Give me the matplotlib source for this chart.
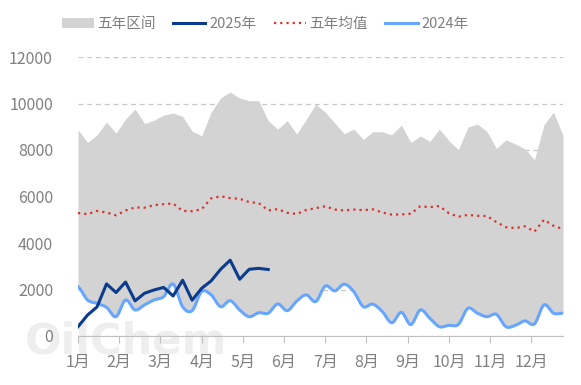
import matplotlib.pyplot as plt
import numpy as np

plt.rcParams['font.family'] = ['Noto Sans CJK SC', 'DejaVu Sans']

months = ["1月", "2月", "3月", "4月", "5月", "6月", "7月", "8月", "9月", "10月", "11月", "12月"]

# weekly values, 52 weeks
upper5 = [8870, 8325, 8655, 9200, 8725, 9330, 9760, 9140, 9285, 9500, 9590, 9445, 8815, 8610,
          9630, 10235, 10495, 10235, 10120, 10120, 9260, 8900, 9260, 8685, 9320, 9975, 9630, 9160,
          8700, 8900, 8455, 8785, 8785, 8655, 9070, 8325, 8600, 8370, 8900, 8400, 8010, 8985,
          9115, 8800, 8070, 8440, 8255, 8050, 7580, 9085, 9630, 8625]
mean5 = [5290, 5240, 5380, 5310, 5190, 5400, 5530, 5520, 5630, 5670, 5700, 5380, 5370, 5450,
         5920, 6010, 5930, 5900, 5760, 5720, 5400, 5460, 5300, 5250, 5420, 5500, 5580, 5440,
         5400, 5440, 5410, 5450, 5310, 5220, 5230, 5260, 5580, 5540, 5590, 5280, 5130, 5210,
         5170, 5160, 4900, 4680, 4640, 4720, 4490, 5000, 4740, 4600]
y2025 = [400, 900, 1250, 2240, 1870, 2320, 1510, 1840, 1980, 2090, 1720, 2400, 1540, 2050,
         2370, 2870, 3260, 2440, 2870, 2910, 2860]
y2024 = [2120, 1550, 1400, 1230, 830, 1550, 1120, 1340, 1550, 1690, 2240, 1260, 1090, 1910,
         1770, 1260, 1520, 1120, 830, 1000, 980, 1380, 1090, 1500, 1770, 1480, 2150, 1940,
         2230, 1910, 1260, 1370, 1050, 570, 1020, 490, 1120, 760, 400, 460, 500, 1190,
         980, 830, 930, 400, 460, 650, 520, 1340, 980, 980]


def smooth(y, n=10):
    # catmull-rom curve through the weekly points (drawing only)
    y = np.asarray(y, dtype=float)
    p = np.concatenate([[y[0]], y, [y[-1]]])
    xs, ys = [], []
    t = np.linspace(0, 1, n, endpoint=False)
    for i in range(len(y) - 1):
        p0, p1, p2, p3 = p[i], p[i + 1], p[i + 2], p[i + 3]
        yy = 0.5 * (2 * p1 + (-p0 + p2) * t + (2 * p0 - 5 * p1 + 4 * p2 - p3) * t ** 2
                    + (-p0 + 3 * p1 - 3 * p2 + p3) * t ** 3)
        xs.extend(i + t)
        ys.extend(yy)
    xs.append(len(y) - 1)
    ys.append(y[-1])
    return np.array(xs), np.array(ys)


wk = np.arange(len(upper5))
xs24, ys24 = smooth(y2024)
up_s = np.interp(xs24, wk, upper5)

fig = plt.figure(figsize=(5.81, 3.85), dpi=100)
ax = fig.add_axes([78 / 581, 1 - 336 / 385, (563 - 78) / 581, (336 - 57) / 385])
ax.patch.set_alpha(0)

# faint watermark behind the plot
fig.text(25 / 581, 1 - 354 / 385, "OilChem", fontsize=31, fontweight='bold',
         color='#eeeeee', family='DejaVu Sans', zorder=-1)

ax.fill_between(xs24, ys24, up_s, color='#d3d3d3', lw=0, zorder=1, label='五年区间')
ax.plot(np.arange(len(y2025)), y2025, color='#0b3b8c', lw=2.2, zorder=4, label='2025年')
ax.plot(wk, mean5, color='#d9342b', lw=1.6, linestyle=(0, (1, 1.8)), zorder=3, label='五年均值')
ax.plot(xs24, ys24, color='#66a6ff', lw=2.2, zorder=3, label='2024年')

ax.set_xlim(0, 51)
ax.set_ylim(0, 12000)
ax.set_yticks(range(0, 12001, 2000))
mt = [m * 52 / 12 for m in range(12)]
ax.set_xticks(mt)
ax.set_xticklabels(months)
ax.grid(axis='y', color='#c8c8c8', linestyle=(0, (4, 3)), lw=0.9, zorder=0)
ax.set_axisbelow(True)

for s in ['top', 'right', 'left']:
    ax.spines[s].set_visible(False)
ax.spines['bottom'].set_color('#c0c0c0')
ax.tick_params(axis='y', length=0, pad=18, labelsize=11.5, labelcolor='#808080')
ax.tick_params(axis='x', length=5, color='#c0c0c0', pad=8, labelsize=11.5, labelcolor='#808080')

h, l = ax.get_legend_handles_labels()
leg = fig.legend(h, l, loc='center', bbox_to_anchor=(265 / 581, 1 - 24 / 385), ncol=4,
                 frameon=False, fontsize=10.5, handlelength=2.2, handletextpad=0.25,
                 columnspacing=1.2)
for t in leg.get_texts():
    t.set_color('#7f7f7f')

fig.savefig("out.png", dpi=100)
